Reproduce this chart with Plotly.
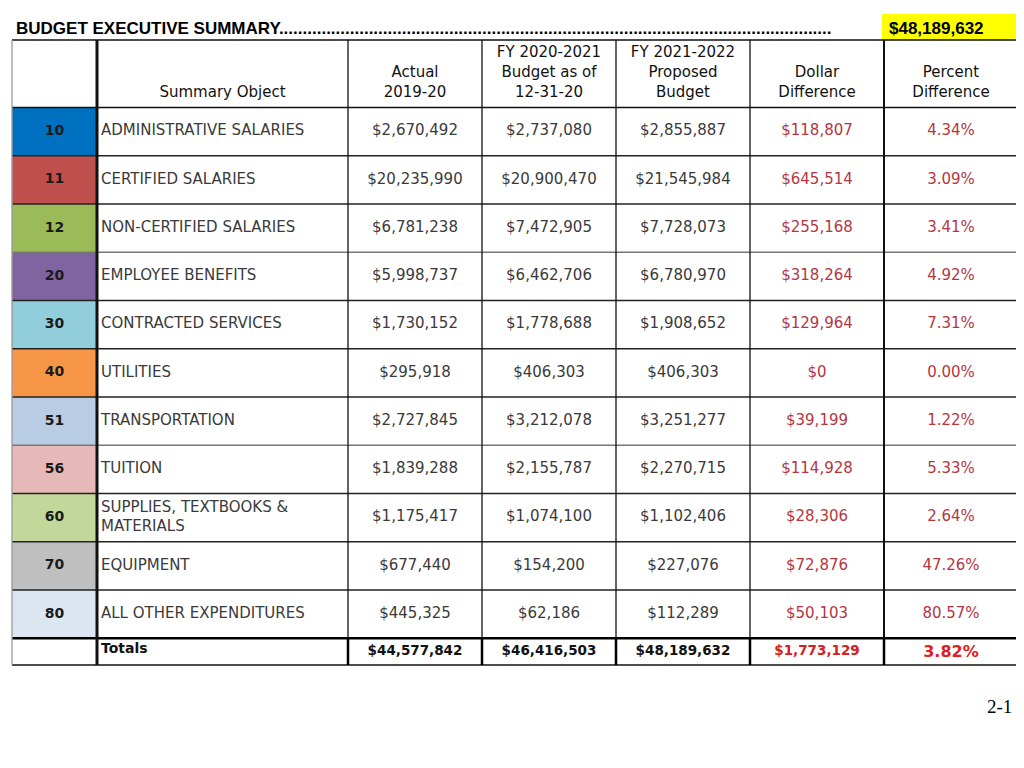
import plotly.graph_objects as go

# ---------------- data ----------------
codes = ["10", "11", "12", "20", "30", "40", "51", "56", "60", "70", "80"]
objects = ["ADMINISTRATIVE SALARIES", "CERTIFIED SALARIES", "NON-CERTIFIED SALARIES",
           "EMPLOYEE BENEFITS", "CONTRACTED SERVICES", "UTILITIES", "TRANSPORTATION",
           "TUITION", "SUPPLIES, TEXTBOOKS &<br>MATERIALS", "EQUIPMENT",
           "ALL OTHER EXPENDITURES"]
actual_2019_20 = [2670492, 20235990, 6781238, 5998737, 1730152, 295918, 2727845,
                  1839288, 1175417, 677440, 445325]
budget_2020_21 = [2737080, 20900470, 7472905, 6462706, 1778688, 406303, 3212078,
                  2155787, 1074100, 154200, 62186]
proposed_2021_22 = [2855887, 21545984, 7728073, 6780970, 1908652, 406303, 3251277,
                    2270715, 1102406, 227076, 112289]
dollar_diff = [118807, 645514, 255168, 318264, 129964, 0, 39199, 114928, 28306,
               72876, 50103]
percent_diff = [4.34, 3.09, 3.41, 4.92, 7.31, 0.00, 1.22, 5.33, 2.64, 47.26, 80.57]
totals = [44577842, 46416503, 48189632, 1773129]
total_percent = 3.82
headline_total = 48189632
headers = [[], ["Summary Object"], ["Actual", "2019-20"],
           ["FY 2020-2021", "Budget as of", "12-31-20"],
           ["FY 2021-2022", "Proposed", "Budget"],
           ["Dollar", "Difference"], ["Percent", "Difference"]]
code_colors = ["#0070C0", "#C0504D", "#9BBB59", "#8064A2", "#92CDDC", "#F79646",
               "#B8CCE4", "#E6B9B8", "#C4D79B", "#BFBFBF", "#DCE6F1"]
title = "BUDGET EXECUTIVE SUMMARY"
page_label = "2-1"

# ---------------- layout constants ----------------
PAGE_OFFSET = 8  # page body margin of the html file
col_edges = [12, 97, 348, 482, 616, 750, 884, 1018]
header_top, header_bottom = 40, 107.5
row_h = 48.25
totals_bottom = 665
n = len(codes)
row_top = [header_bottom + i * row_h for i in range(n)]
row_mid = [t + row_h / 2 for t in row_top]
totals_top = header_bottom + n * row_h
totals_mid = (totals_top + totals_bottom) / 2
col_mid = [(col_edges[i] + col_edges[i + 1]) / 2 for i in range(len(col_edges) - 1)]

BODY = "DejaVu Sans, Liberation Sans, Arial"
GRAY = "#3a3a3a"
RED = "#B5363F"

money = lambda v: "${:,.0f}".format(v)
pct = lambda v: "{:.2f}%".format(v)

fig = go.Figure()
shapes = []

# colored code cells
for i in range(n):
    shapes.append(dict(type="rect", xref="x", yref="y", x0=col_edges[0], x1=col_edges[1],
                       y0=row_top[i], y1=row_top[i] + row_h, fillcolor=code_colors[i],
                       line=dict(width=0), layer="below"))
# yellow total box
shapes.append(dict(type="rect", xref="x", yref="y", x0=882, x1=1018, y0=14, y1=40,
                   fillcolor="#FFFF00", line=dict(width=0), layer="below"))

def hline(y, w=1.3, color="#111", x0=col_edges[0], x1=col_edges[-1]):
    shapes.append(dict(type="line", xref="x", yref="y", x0=x0, x1=x1, y0=y, y1=y,
                       line=dict(color=color, width=w)))

hline(header_top, 1.3)
hline(header_bottom, 1.3)
for i in range(1, n):
    hline(row_top[i], 1.3, "#222" if i not in (3, 7) else "#777")
hline(totals_top, 2.5, "#000")
hline(totals_bottom, 1.3)

# vertical lines
for j, x in enumerate(col_edges[:-1]):
    w = 3 if j == 1 else (2 if j == 6 else 1.3)
    shapes.append(dict(type="line", xref="x", yref="y", x0=x, x1=x, y0=header_top,
                       y1=totals_bottom, line=dict(color="#111" if j else "#999", width=w)))
for x in col_edges[2:7]:
    shapes.append(dict(type="line", xref="x", yref="y", x0=x, x1=x, y0=totals_top,
                       y1=totals_bottom, line=dict(color="#000", width=2.5)))

# ---------------- text traces ----------------
def text_trace(xs, ys, texts, size=15, color=GRAY, pos="middle center", family=BODY,
               weight="normal"):
    fig.add_trace(go.Scatter(x=xs, y=ys, text=texts, mode="text", textposition=pos,
                             textfont=dict(family=family, size=size, color=color,
                                           weight=weight),
                             hoverinfo="skip", showlegend=False))

text_trace([col_mid[0]] * n, row_mid, codes, size=14, color="#1a1a1a", weight="bold")
text_trace([101] * n, row_mid, objects, pos="middle right")
text_trace([col_mid[2]] * n, row_mid, [money(v) for v in actual_2019_20])
text_trace([col_mid[3]] * n, row_mid, [money(v) for v in budget_2020_21])
text_trace([col_mid[4]] * n, row_mid, [money(v) for v in proposed_2021_22])
text_trace([col_mid[5]] * n, row_mid, [money(v) for v in dollar_diff], color=RED)
text_trace([col_mid[6]] * n, row_mid, [pct(v) for v in percent_diff], color=RED)

# totals row
text_trace([101], [totals_mid - 2], ["Totals"], size=14, color="#111",
           pos="middle right", weight="bold")
text_trace(col_mid[2:5], [totals_mid] * 3, [money(v) for v in totals[:3]], size=13.5,
           color="#111", weight="bold")
text_trace([col_mid[5]], [totals_mid], [money(totals[3])], size=13.5, color="#D42020",
           weight="bold")
text_trace([col_mid[6]], [totals_mid + 1], [pct(total_percent)], size=16,
           color="#E02020", weight="bold")

# header lines
hx, hy, ht = [], [], []
for j, lines in enumerate(headers):
    for k, line in enumerate(lines):
        hx.append(col_mid[j])
        hy.append(93 - 20 * (len(lines) - 1 - k))
        ht.append(line)
text_trace(hx, hy, ht, color="#111")

# ---------------- annotations ----------------
annotations = [
    dict(x=14, y=28, xref="x", yref="y", xanchor="left", yanchor="middle",
         text="<b>" + title + "." * 117 + "</b>", showarrow=False,
         font=dict(family="Liberation Sans, Arial", size=17, color="#000")),
    dict(x=887, y=28, xref="x", yref="y", xanchor="left", yanchor="middle",
         text="<b>" + money(headline_total) + "</b>", showarrow=False,
         font=dict(family="Liberation Sans, Arial", size=17, color="#000")),
    dict(x=1014, y=706, xref="x", yref="y", xanchor="right", yanchor="middle",
         text=page_label, showarrow=False,
         font=dict(family="Liberation Serif, DejaVu Serif, serif", size=19,
                   color="#000")),
]

fig.update_layout(
    width=1024 - PAGE_OFFSET, height=768 - PAGE_OFFSET,
    margin=dict(l=0, r=0, t=0, b=0),
    paper_bgcolor="white", plot_bgcolor="white",
    xaxis=dict(range=[PAGE_OFFSET, 1024], visible=False, fixedrange=True),
    yaxis=dict(range=[768, PAGE_OFFSET], visible=False, fixedrange=True),
    shapes=shapes, annotations=annotations,
)
fig.write_html("out.html")
